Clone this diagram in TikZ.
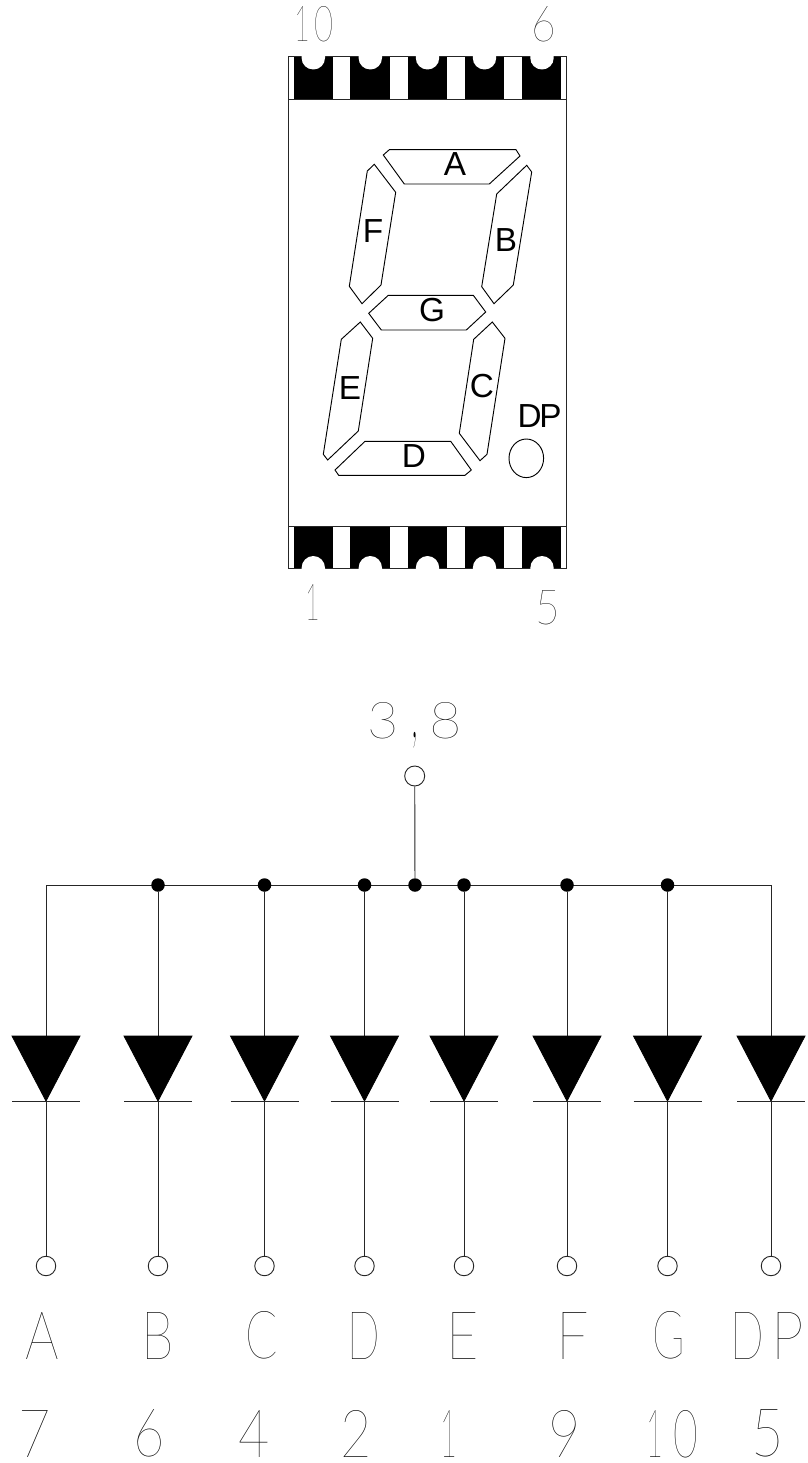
\documentclass[tikz,border=0pt]{standalone}
\usepackage{graphicx}
\usepackage{fontspec}
\setmainfont{Liberation Sans}
\newfontfamily\strokefont{Lato Thin}
\newdimen\pxu \pxu=.75pt
% name, left x, bottom y, width, height, text
\newcommand{\stk}[6]{\node[stroketext] (#1) at (#2-#4*.06,#3-2.5) {\resizebox{\dimexpr#4\pxu*112/100\relax}{#5\pxu}{\strokefont #6}};}
\tikzset{
  x=.75pt,y=-.75pt,
  stroketext/.style={anchor=south west,inner sep=0pt,outer sep=0pt},
  seglabel/.style={inner sep=0pt,font=\fontsize{25}{25}\selectfont},
  thinline/.style={line width=.7pt,black!85},
  pad/.style={fill=black,draw=none},
  notch/.style={fill=white,draw=none},
  segment/.style={line width=.7pt,draw=black,fill=white,line join=miter},
  pincircle/.style={circle,draw=black!85,line width=.7pt,fill=white,minimum width=18\pxu,minimum height=18\pxu,inner sep=0pt},
  junction/.style={circle,fill=black,minimum size=13.5\pxu,inner sep=0pt},
  diodefill/.style={fill=black,draw=black,line width=.6pt,line join=miter},
}
\begin{document}
\begin{tikzpicture}
\useasboundingbox (0,0) rectangle (807,1463);
\fill[white] (0,0) rectangle (807,1463);
% package
\foreach \a/\b in {293.5/332.7,350.3/390,407.7/446.7,465/504,522/561.3}{
  \fill[pad] (\a,56) rectangle (\b,99.5);
  \fill[pad] (\a,526) rectangle (\b,569);
}
\draw[thinline] (288.5,56.5) rectangle (566,568.7);
\draw[thinline] (288.5,99.5) -- (566,99.5);
\draw[thinline] (288.5,526) -- (566,526);
\foreach \c/\r in {313.3/11.7,370.3/11.7,427.5/11.7,484.5/11.7,542/11.7}{
  \fill[notch] (\c-\r,55) -- (\c-\r,58) arc[start angle=180,end angle=360,x radius=\r,y radius=-11.5] -- (\c+\r,55) -- cycle;
  \fill[notch] (\c-\r,570) -- (\c-\r,568) arc[start angle=180,end angle=0,x radius=\r,y radius=-12] -- (\c+\r,570) -- cycle;
}
% segments
\draw[segment] (389.3,149.7) -- (516,149.7) -- (520,156) -- (489.3,184) -- (404.3,184) -- (383.3,155) -- cycle;
\draw[segment] (374.3,164.3) -- (395.7,192.3) -- (381,285) -- (362,303.7) -- (349.3,286.3) -- (367.3,171) -- cycle;
\draw[segment] (526.7,165.3) -- (531.7,172) -- (513.3,285) -- (494,303.7) -- (481.7,286.7) -- (496.7,194) -- cycle;
\draw[segment] (388.3,295.3) -- (473.3,295.3) -- (485.7,312) -- (466.3,330) -- (381.3,330) -- (368.7,313.3) -- cycle;
\draw[segment] (360.3,322) -- (372.7,338.3) -- (358.3,431) -- (327.7,460) -- (323.3,454.3) -- (341.3,339.3) -- cycle;
\draw[segment] (492.3,322) -- (505,338.3) -- (487,454.3) -- (480,460.7) -- (459.3,433.3) -- (473.7,339.3) -- cycle;
\draw[segment] (365,441.3) -- (450.7,441.3) -- (471.3,470) -- (465,475.3) -- (338.7,475.3) -- (335,470) -- cycle;
\draw[segment] (526.3,458.3) ellipse[x radius=17.3,y radius=19.3];
\node[seglabel] (sa) at (455,164) {A};
\node[seglabel] (sf) at (373,231.5) {F};
\node[seglabel] (sb) at (506,240) {B};
\node[seglabel] (sg) at (432,310) {G};
\node[seglabel] (se) at (350,388) {E};
\node[seglabel] (sc) at (482,386) {C};
\node[seglabel] (sd) at (414,456) {D};
\node[seglabel] (sdp) at (539.5,416) {D\kern-.07em P};
% pin numbers
\stk{t10a}{295.5}{44}{14}{35}{1}
\stk{t10b}{315.5}{44}{17}{35}{0}
\stk{t6}{533}{44.5}{22}{35}{6}
\stk{b1}{306.5}{623}{13}{36}{1}
\stk{b5}{537}{627.5}{22}{34}{5}
\stk{c3}{369}{741}{28}{36}{3}
\node[stroketext] (ccomma) at (411,748) {\resizebox*{7\pxu}{16\pxu}{\strokefont ,}};
\stk{c8}{431}{741}{29}{36}{8}
% schematic
\node[pincircle,minimum width=18\pxu,minimum height=20\pxu] (top) at (414.7,776) {};
\coordinate (j1) at (46,885);
\coordinate (j8) at (771,885);
\draw[thinline] (j1) -- (j8);
\node[junction] (jc) at (415,885) {};
\draw[thinline] (top) -- (jc);
\node[junction] (j2) at (158,885) {};
\node[junction] (j3) at (264.5,885) {};
\node[junction] (j4) at (364.5,885) {};
\node[junction] (j5) at (464,885) {};
\node[junction] (j6) at (567,885) {};
\node[junction] (j7) at (667.5,885) {};
\foreach \i/\x in {1/46,2/158,3/264.5,4/364.5,5/464,6/567,7/667.5,8/771}{
  \coordinate (dt\i) at (\x,1036);
  \coordinate (da\i) at (\x,1101);
  \coordinate (dl\i) at (\x-34,1036);
  \coordinate (dr\i) at (\x+34,1036);
  \coordinate (bl\i) at (\x-34,1101);
  \coordinate (br\i) at (\x+34,1101);
  \node[pincircle,minimum height=19.5\pxu] (p\i) at (\x,1266) {};
  \draw[thinline] (j\i) -- (dt\i);
  \draw[diodefill] (dl\i) -- (dr\i) -- (da\i) -- cycle;
  \draw[thinline] (bl\i) -- (br\i);
  \draw[thinline] (da\i) -- (p\i);
}
% letters
\stk{la}{27}{1362}{30}{47}{A}
\stk{lb}{143}{1362}{29}{47}{B}
\stk{lc}{247}{1362}{29}{47}{C}
\stk{ld}{349}{1362}{29}{47}{D}
\stk{le}{448}{1362}{29}{47}{E}
\stk{lf}{558}{1362}{29}{47}{F}
\stk{lg}{654}{1362}{29}{47}{G}
\stk{ldp1}{732}{1362}{30}{47}{D}
\stk{ldp2}{773}{1362}{29}{47}{P}
% numbers
\stk{n7}{20}{1460}{29}{47}{7}
\stk{n6}{135}{1460}{28}{47}{6}
\stk{n4}{240}{1460}{28}{47}{4}
\stk{n2}{342}{1460}{28}{47}{2}
\stk{n1}{441}{1460}{15}{47}{1}
\stk{n9}{550}{1460}{29}{47}{9}
\stk{n10a}{647}{1460}{15}{47}{1}
\stk{n10b}{675}{1460}{22}{47}{0}
\stk{n5}{753}{1460}{29}{47}{5}
\end{tikzpicture}
\end{document}
